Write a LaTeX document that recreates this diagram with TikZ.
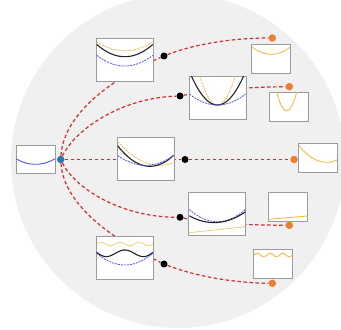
\documentclass[tikz,border=0pt]{standalone}
\pgfdeclarelayer{back}
\pgfdeclarelayer{mid}
\pgfsetlayers{back,mid,main}
\definecolor{bgc}{RGB}{240,240,240}
\definecolor{boxc}{RGB}{155,155,155}
\definecolor{redc}{RGB}{210,45,45}
\definecolor{orc}{RGB}{246,186,72}
\definecolor{dotor}{RGB}{236,126,52}
\definecolor{dotbl}{RGB}{50,118,180}
\definecolor{bluec}{RGB}{80,80,250}
\definecolor{blk}{RGB}{35,35,35}
\tikzset{
  mainbox/.style={draw=boxc, fill=white, line width=0.9pt, minimum width=57pt, minimum height=43pt, inner sep=0pt, outer sep=0pt},
  smallbox/.style={draw=boxc, fill=white, line width=0.9pt, minimum width=39pt, minimum height=29pt, inner sep=0pt, outer sep=0pt},
  inbox/.style={draw=boxc, fill=white, line width=0.9pt, minimum width=39pt, minimum height=28pt, inner sep=0pt, outer sep=0pt},
  conn/.style={draw=redc, line width=1.2pt, dash pattern=on 3.5pt off 2.5pt},
  kdot/.style={circle, fill=black, minimum size=7pt, inner sep=0pt},
  odot/.style={circle, fill=dotor, minimum size=7.5pt, inner sep=0pt},
  bdot/.style={circle, fill=dotbl, minimum size=7.5pt, inner sep=0pt},
  ocurve/.style={orc, line width=0.8pt, dash pattern=on 2pt off 1pt},
  osolid/.style={orc, line width=0.9pt},
  kcurve/.style={blk, line width=1.1pt},
  bcurve/.style={bluec, line width=0.8pt, dash pattern=on 2pt off 1pt},
  bsolid/.style={bluec, line width=0.9pt},
}
\begin{document}
\begin{tikzpicture}[x=1pt,y=1pt]
\useasboundingbox (0,0) rectangle (341,330);
% nodes
\node[inbox] (in1) at (35.5,171) {};
\node[bdot] (bl) at (60.7,170.5) {};
\node[mainbox] (A) at (124.8,270.5) {};
\node[mainbox] (B) at (217.5,232) {};
\node[mainbox] (C) at (145.7,171) {};
\node[mainbox] (D) at (217.3,116) {};
\node[mainbox] (E) at (124.8,72) {};
\node[smallbox] (sa) at (271.2,271.2) {};
\node[smallbox] (sb) at (289.2,223.3) {};
\node[smallbox] (sc) at (318,172.2) {};
\node[smallbox] (sd) at (288.3,123.3) {};
\node[smallbox] (se) at (273.3,66.5) {};
\node[kdot] (ka) at (164,274) {};
\node[kdot] (kb) at (180,234) {};
\node[kdot] (kc) at (185,170.5) {};
\node[kdot] (kd) at (180,112.7) {};
\node[kdot] (ke) at (164,66) {};
\node[odot] (oa) at (272.3,292) {};
\node[odot] (ob) at (289.3,243.3) {};
\node[odot] (oc) at (294,170.5) {};
\node[odot] (od) at (289.3,104.7) {};
\node[odot] (oe) at (272.3,46.7) {};
% background
\begin{pgfonlayer}{back}
\clip (0,0) rectangle (341,330);
\fill[bgc] (178,169) circle (167);
\end{pgfonlayer}
\begin{pgfonlayer}{mid}
\draw[conn] (bl) .. controls (64,220) and (120,255) .. (ka);
\draw[conn] (ka) .. controls (200,288) and (240,292) .. (oa);
\draw[conn] (bl) .. controls (75,200) and (120,232) .. (kb);
\draw[conn] (kb) .. controls (210,240) and (250,243) .. (ob);
\draw[conn] (bl) -- (kc);
\draw[conn] (kc) -- (oc);
\draw[conn] (bl) .. controls (75,142) and (120,113) .. (kd);
\draw[conn] (kd) .. controls (210,106) and (250,105) .. (od);
\draw[conn] (bl) .. controls (64,122) and (120,87) .. (ke);
\draw[conn] (ke) .. controls (200,52) and (240,47) .. (oe);
\end{pgfonlayer}
% input curve
\begin{scope}[shift={(in1.center)}]
\draw[bsolid] plot[domain=-19.3:19.3, samples=40, smooth] (\x,{-5.3+5.5*(\x/19.5)^2});
\end{scope}
% box A
\begin{scope}[shift={(A.center)}]
\draw[ocurve] plot[domain=-28:28, samples=40, smooth] (\x,{8.8+9*(\x/28.5)^2});
\draw[kcurve] plot[domain=-28:28, samples=40, smooth] (\x,{2.8+12.7*(\x/28.5)^2});
\draw[bcurve] plot[domain=-28:28, samples=40, smooth] (\x,{-6.5+11*(\x/28.5)^2});
\end{scope}
% box B
\begin{scope}[shift={(B.center)}]
\clip (-28,-21) rectangle (28,21);
\draw[ocurve] plot[domain=-18.5:18.5, samples=40, smooth] (\x,{-7+28.3*(\x/17.5)^2});
\draw[kcurve] plot[domain=-27:27, samples=40, smooth] (\x,{-7+28.3*(\x/25.8)^2});
\draw[bcurve] plot[domain=-28:28, samples=40, smooth] (\x,{-7+11*(\x/28.2)^2});
\end{scope}
% box C
\begin{scope}[shift={(C.center)}]
\draw[ocurve] plot[domain=-28:28, samples=40, smooth] (\x,{-6.3+0.01333*(\x-14.3)^2});
\draw[kcurve] plot[domain=-28:28, samples=40, smooth] (\x,{-7.3+0.01964*(\x-4.3)^2});
\draw[bcurve] plot[domain=-28:28, samples=40, smooth] (\x,{-6.3+10*(\x/28.4)^2});
\end{scope}
% box D
\begin{scope}[shift={(D.center)}]
\draw[bcurve] plot[domain=-28:28, samples=40, smooth] (\x,{-7.7+12.4*(\x/28.3)^2});
\draw[kcurve] plot[domain=-28:28, samples=40, smooth] (\x,{-8.5+8.8*(\x/28.3)^2+2*(\x/28.3)});
\draw[ocurve] (-28,-18.7) -- (28,-12.7);
\end{scope}
% box E
\begin{scope}[shift={(E.center)}]
\draw[ocurve] plot[domain=-28:28, samples=80, smooth] (\x,{14+1.8*sin(18.947*(\x+28.5))});
\draw[kcurve] plot[domain=-28:28, samples=80, smooth] (\x,{4+4*cos(9*\x)+3*(\x/28.5)^2});
\draw[bcurve] plot[domain=-28:28, samples=40, smooth] (\x,{-7+12*(\x/28.5)^2});
\end{scope}
% small boxes
\begin{scope}[shift={(sa.center)}]
\draw[osolid] plot[domain=-19:19, samples=40, smooth] (\x,{4.5+7.6*(\x/19.5)^2});
\end{scope}
\begin{scope}[shift={(sb.center)}]
\clip (-19,-14) rectangle (19,14);
\draw[osolid] plot[domain=-13.5:8.5, samples=40, smooth] (\x,{-4+18.4*((\x+2.5)/10)^2});
\end{scope}
\begin{scope}[shift={(sc.center)}]
\draw[osolid] plot[domain=-19:19, samples=40, smooth] (\x,{-4.5+0.022*(\x-8.5)^2});
\end{scope}
\begin{scope}[shift={(sd.center)}]
\draw[osolid] (-19,-12.6) -- (19,-9.3);
\end{scope}
\begin{scope}[shift={(se.center)}]
\draw[osolid] plot[domain=-19:19, samples=80, smooth] (\x,{8.5+1.7*sin(28.42*(\x+19))});
\end{scope}
\end{tikzpicture}
\end{document}
